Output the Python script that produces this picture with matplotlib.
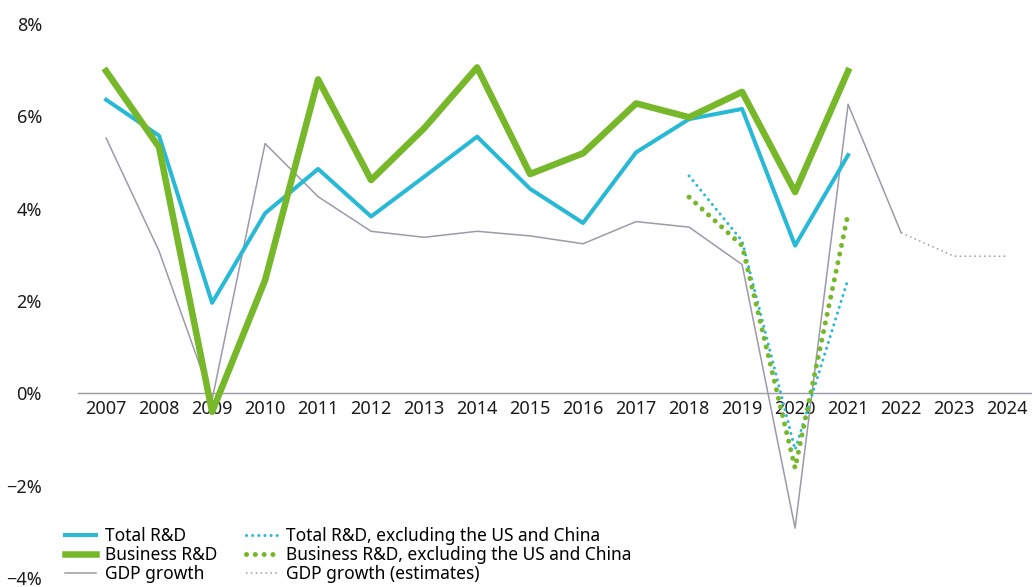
import matplotlib
matplotlib.use("Agg")
import matplotlib.pyplot as plt
from matplotlib.ticker import FuncFormatter

plt.rcParams['font.family'] = ['Noto Sans', 'DejaVu Sans']
plt.rcParams['font.stretch'] = 'condensed'

years = [str(y) for y in range(2007, 2025)]
total_rd = [6.36, 5.58, 1.96, 3.90, 4.86, 3.83, 4.69, 5.56, 4.43, 3.69, 5.22, 5.94, 6.16, 3.20, 5.16]
business_rd = [6.98, 5.33, -0.40, 2.45, 6.80, 4.62, 5.74, 7.06, 4.75, 5.20, 6.28, 5.98, 6.53, 4.36, 6.98]
gdp = [5.53, 3.08, -0.14, 5.41, 4.26, 3.51, 3.38, 3.51, 3.41, 3.24, 3.72, 3.60, 2.79, -2.92, 6.26, 3.48]
gdp_est_years = ["2022", "2023", "2024"]
gdp_est = [3.48, 2.97, 2.97]
excl_years = ["2018", "2019", "2020", "2021"]
total_rd_excl = [4.71, 3.30, -1.22, 2.48]
business_rd_excl = [4.25, 3.20, -1.62, 3.89]
yticks = [-4, -2, 0, 2, 4, 6, 8]

CYAN = "#27b9d6"
GREEN = "#77b82a"
GRAY = "#9b9aa8"

fig = plt.figure(figsize=(10.32, 5.87), dpi=100)
ax = fig.add_axes([78/1032, 1 - 578/587, 1 - 78/1032, (578 - 24)/587])

idx = {y: i for i, y in enumerate(years)}
xi = lambda ys: [idx[y] for y in ys]

ax.plot(xi(years[:len(gdp)]), gdp, color=GRAY, lw=1.1, label="GDP growth", zorder=2)
ax.plot(xi(gdp_est_years), gdp_est, color=GRAY, lw=1.1, ls=(0, (1, 2.2)),
        label="GDP growth (estimates)", zorder=2)
ax.plot(xi(years[:len(total_rd)]), total_rd, color=CYAN, lw=2.9, label="Total R&D", zorder=3)
ax.plot(xi(years[:len(business_rd)]), business_rd, color=GREEN, lw=4.7, label="Business R&D", zorder=4)
ax.plot(xi(excl_years), total_rd_excl, color=CYAN, lw=2.2, ls=(0, (0.01, 2.0)),
        dash_capstyle='round', label="Total R&D, excluding the US and China", zorder=5)
ax.plot(xi(excl_years), business_rd_excl, color=GREEN, lw=3.6, ls=(0, (0.01, 1.75)),
        dash_capstyle='round', label="Business R&D, excluding the US and China", zorder=5)

ax.set_xlim(-0.53, 17.47)
ax.set_ylim(-4, 8)
ax.set_xticks(range(len(years)))
ax.set_xticklabels(years)
ax.set_yticks(yticks)
ax.yaxis.set_major_formatter(FuncFormatter(lambda v, p: f"{int(v)}%".replace("-", "\u2212")))

for s in ["top", "right", "left"]:
    ax.spines[s].set_visible(False)
ax.spines["bottom"].set_position(("data", 0))
ax.spines["bottom"].set_color(GRAY)
ax.spines["bottom"].set_linewidth(1.0)
ax.tick_params(axis="x", length=0, pad=5, labelsize=13, colors="#1a1a1a")
ax.tick_params(axis="y", length=0, pad=26, labelsize=13, colors="#1a1a1a")

h, l = ax.get_legend_handles_labels()
order = ["Total R&D", "Business R&D", "GDP growth",
         "Total R&D, excluding the US and China",
         "Business R&D, excluding the US and China", "GDP growth (estimates)"]
hd = dict(zip(l, h))
leg = fig.legend([hd[o] for o in order], order, loc="upper left",
                 bbox_to_anchor=(56/1032, 1 - 518/587), ncol=2, frameon=False,
                 fontsize=12.5, handlelength=1.8, handletextpad=0.55,
                 columnspacing=1.6, labelspacing=0.08, borderpad=0)

fig.savefig("out.png", dpi=100)
